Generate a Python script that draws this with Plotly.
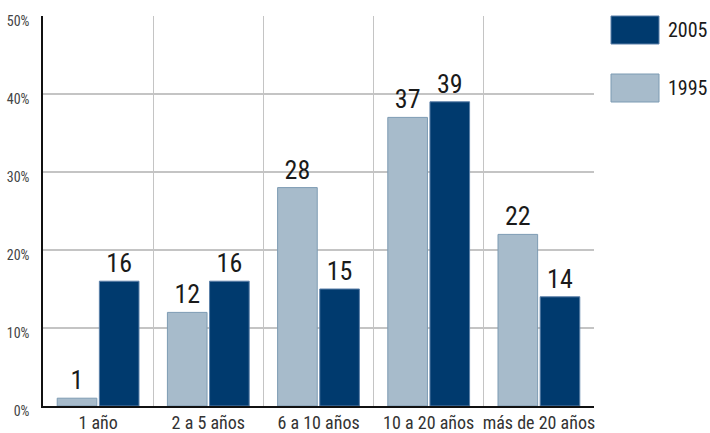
import plotly.graph_objects as go

categories = ["1 año", "2 a 5 años", "6 a 10 años", "10 a 20 años", "más de 20 años"]
values_1995 = [1, 12, 28, 37, 22]
values_2005 = [16, 16, 15, 39, 14]
y_ticks = [0, 10, 20, 30, 40, 50]
y_tick_labels = ["0%", "10%", "20%", "30%", "40%", "50%"]

FONT = "Liberation Sans Narrow, Roboto Condensed, Arial Narrow, Roboto, sans-serif"
LIGHT = "#a7bbcb"
LIGHT_LINE = "#7d9bb3"
DARK = "#003a6e"
DARK_LINE = "#5a7fa8"

xpos = list(range(len(categories)))

fig = go.Figure()
fig.add_trace(go.Bar(
    x=xpos, y=values_1995, name="1995",
    marker=dict(color=LIGHT, line=dict(color=LIGHT_LINE, width=1)),
    text=[str(v) for v in values_1995], textposition="outside",
    textfont=dict(size=26, color="#1a1a1a", family=FONT),
    cliponaxis=False, showlegend=False,
))
fig.add_trace(go.Bar(
    x=xpos, y=values_2005, name="2005",
    marker=dict(color=DARK, line=dict(color=DARK_LINE, width=1)),
    text=[str(v) for v in values_2005], textposition="outside",
    textfont=dict(size=26, color="#1a1a1a", family=FONT),
    cliponaxis=False, showlegend=False,
))
# invisible trace to drive the category-label axis
fig.add_trace(go.Scatter(x=xpos, y=[None]*len(xpos), xaxis="x2", showlegend=False, hoverinfo="skip"))

boundaries = [i - 0.5 for i in range(len(categories) + 1)]

fig.update_layout(
    width=710, height=433,
    margin=dict(l=43, r=116, t=16, b=27),
    paper_bgcolor="white", plot_bgcolor="white",
    barmode="group", bargap=0.235, bargroupgap=0.06,
    font=dict(family=FONT, color="#333333"),
    xaxis=dict(range=[-0.5, len(categories) - 0.5], tickvals=boundaries, showticklabels=False,
               showgrid=True, gridcolor="#c4c4c4", gridwidth=1, ticks="", automargin=False,
               showline=True, linecolor="#111111", linewidth=1.5, zeroline=False),
    xaxis2=dict(overlaying="x", matches="x", side="bottom", tickvals=xpos, ticktext=categories,
                showgrid=False, showline=False, ticks="", zeroline=False, automargin=False,
                ticklabelstandoff=4,
                tickfont=dict(size=18, color="#333333", family=FONT)),
    yaxis=dict(range=[0, 50], tickvals=y_ticks, ticktext=y_tick_labels, automargin=False,
               showgrid=True, gridcolor="#c4c4c4", gridwidth=1.5, ticks="",
               showline=True, linecolor="#111111", linewidth=1.5, zeroline=False,
               ticklabelstandoff=9,
               tickfont=dict(size=14, color="#444444", family=FONT), ticklabelshift=5),
)

# custom legend (large swatches)
legend_items = [("2005", DARK, DARK_LINE, 0.0), ("1995", LIGHT, LIGHT_LINE, 1.0)]
for label, fill, line, idx in legend_items:
    y0 = 1 - (0 + idx * 58) / 390
    fig.add_shape(type="rect", xref="paper", yref="paper",
                  x0=1 + 17/551, x1=1 + 65/551,
                  y0=y0 - 28/390, y1=y0,
                  fillcolor=fill, line=dict(color=line, width=1))
    fig.add_annotation(xref="paper", yref="paper", x=1 + 72/551, y=y0 - 14/390,
                       text=label, showarrow=False, xanchor="left", yanchor="middle",
                       font=dict(size=20, color="#1a1a1a", family=FONT))

fig.write_html("out.html")
